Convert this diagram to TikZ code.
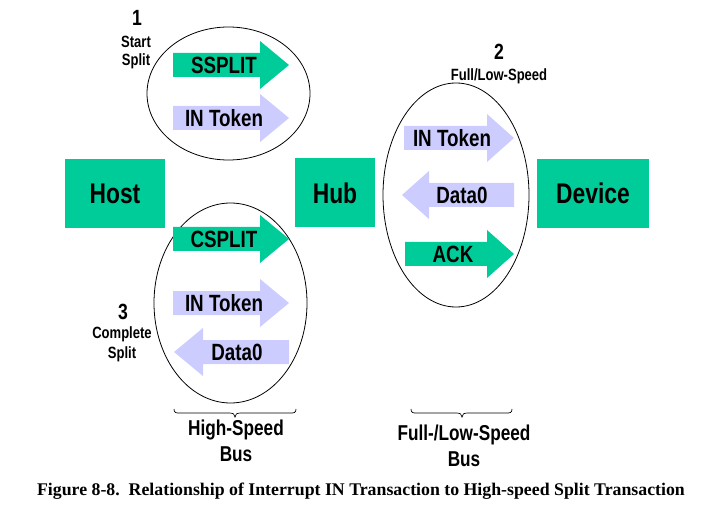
\documentclass[tikz,border=0pt]{standalone}
\usepackage{fontspec}
\setmainfont{Liberation Sans}[FakeStretch=0.8]
\newfontfamily\capfont{Liberation Serif}
\definecolor{usbgreen}{RGB}{0,204,153}
\definecolor{usblav}{RGB}{204,204,255}
\newcommand\rarr[5]{% color, x1 shaft start, x2 head base, x3 tip, yc
  \fill[#1] (#2,#5-12) -- (#3,#5-12) -- (#3,#5-24) -- (#4,#5) -- (#3,#5+24) -- (#3,#5+12) -- (#2,#5+12) -- cycle;}
\newcommand\larr[5]{% color, x1 tip, x2 head base, x3 shaft end, yc
  \fill[#1] (#2,#5) -- (#3,#5-24) -- (#3,#5-12) -- (#4,#5-12) -- (#4,#5+12) -- (#3,#5+12) -- (#3,#5+24) -- cycle;}
\begin{document}
\begin{tikzpicture}[x=1pt,y=-1pt,
  box/.style={fill=usbgreen,minimum width=100pt,minimum height=69pt,inner sep=0pt,font=\fontsize{28.5}{30}\selectfont\bfseries},
  alabel/.style={inner sep=0pt,font=\fontsize{23.5}{25}\selectfont\bfseries},
  ell/.style={draw=black,line width=0.8pt},
  num/.style={inner sep=0pt,font=\fontsize{22}{24}\selectfont\bfseries},
  small/.style={inner sep=0pt,font=\fontsize{16.3}{18}\selectfont\bfseries},
  buslab/.style={inner sep=0pt,align=center,font=\fontsize{21.5}{26}\selectfont\bfseries},
  brace/.style={draw=black,line width=0.7pt}]
\useasboundingbox (0,0) rectangle (703,518);
% boxes
\node[box] (host) at (115,193.5) {Host};
\node[box,minimum width=80pt] (hub) at (335,193) {Hub};
\node[box,minimum width=112pt] (device) at (593,193.5) {Device};
% ellipses
\draw[ell] (228.5,93.5) ellipse [x radius=81.5pt, y radius=66.5pt];
\draw[ell] (456,195) ellipse [x radius=73pt, y radius=112pt];
\draw[ell] (230.5,303) ellipse [x radius=76.5pt, y radius=100pt];
% arrows
\rarr{usbgreen}{173}{260}{289}{65}
\rarr{usblav}{173}{260}{289}{118}
\rarr{usblav}{404}{487}{514}{138}
\larr{usblav}{402}{429}{514}{195}
\rarr{usbgreen}{405}{487}{514}{254}
\rarr{usbgreen}{173}{260}{289}{239}
\rarr{usblav}{173}{260}{289}{303}
\larr{usblav}{174}{203}{289}{352}
% arrow labels
\node[alabel] (ssplit) at (224,65) {SSPLIT};
\node[alabel] (intok1) at (224,118) {IN Token};
\node[alabel] (intok2) at (452,138) {IN Token};
\node[alabel] (data2) at (462,195) {Data0};
\node[alabel] (ack) at (453,254) {ACK};
\node[alabel] (csplit) at (224,239) {CSPLIT};
\node[alabel] (intok3) at (224,303) {IN Token};
\node[alabel] (data3) at (237,352) {Data0};
% step labels
\node[num] (n1) at (137,18) {1};
\node[small] (s1a) at (136,42) {Start};
\node[small] (s1b) at (136,61) {Split};
\node[num] (n2) at (499,52) {2};
\node[small] (s2) at (499,76) {Full/Low-Speed};
\node[num] (n3) at (123,312) {3};
\node[small] (s3a) at (122,334) {Complete};
\node[small] (s3b) at (122,354) {Split};
% braces
\draw[brace] (174,409) .. controls (174,413) and (176,413) .. (180,413) -- (229,413) .. controls (233,413) and (235,414) .. (235,417)
  .. controls (235,414) and (237,413) .. (241,413) -- (290,413) .. controls (294,413) and (296,413) .. (296,409);
\draw[brace] (411,409) .. controls (411,413) and (413,413) .. (417,413) -- (456,413) .. controls (460,413) and (462,414) .. (462,417)
  .. controls (462,414) and (464,413) .. (468,413) -- (506,413) .. controls (510,413) and (512,413) .. (512,409);
\node[buslab] (hsbus) at (236,441) {High-Speed\\Bus};
\node[buslab] (flbus) at (464,446) {Full-/Low-Speed\\Bus};
% caption
\node[inner sep=0pt,font=\capfont\fontsize{17.8}{20}\selectfont\bfseries] (cap) at (361,491) {Figure 8-8.\ \ Relationship of Interrupt IN Transaction to High-speed Split Transaction};
\end{tikzpicture}
\end{document}
